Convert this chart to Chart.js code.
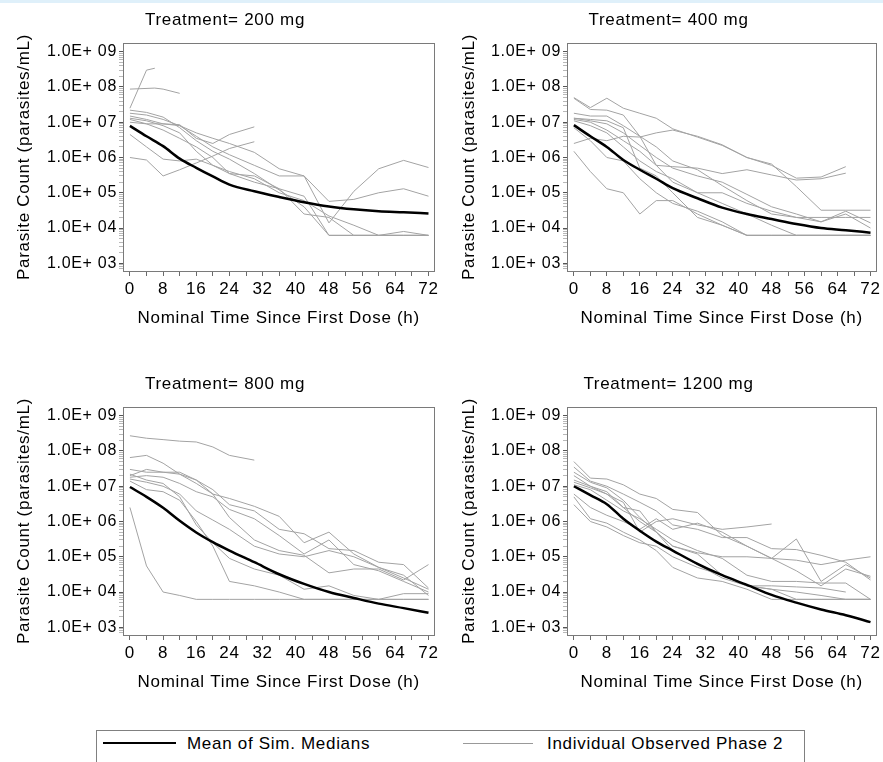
<!DOCTYPE html>
<html>
<head>
<meta charset="utf-8">
<script src="https://cdn.jsdelivr.net/npm/chart.js@4.4.1/dist/chart.umd.min.js"></script>
<style>
    body { margin: 0; background: #fff; width: 883px; height: 762px; overflow: hidden; position: relative;
           font-family: "Liberation Sans", Arial, sans-serif; }
    .strip { position: absolute; left: 0; top: 0; width: 883px; height: 3px; background: #dff0fa; }
    canvas { position: absolute; }
    #legend { position: absolute; left: 96px; top: 730px; width: 707px; height: 44px; border: 1px solid #808080; }
    #legend .ln { position: absolute; }
    #legend .tx { position: absolute; top: 3px; font-size: 17px; letter-spacing: 0.7px; color: #000; line-height: 20px; }
</style>
</head>
<body>
<div class="strip"></div>
<canvas id="c200" width="441" height="340" style="left:0;top:0"></canvas>
<canvas id="c400" width="443" height="340" style="left:440px;top:0"></canvas>
<canvas id="c800" width="441" height="340" style="left:0;top:364px"></canvas>
<canvas id="c1200" width="443" height="340" style="left:440px;top:364px"></canvas>
<div id="legend">
    <div class="ln" style="left:6px;top:11px;width:73px;height:2px;background:#000"></div>
    <div class="tx" style="left:90px">Mean of Sim. Medians</div>
    <div class="ln" style="left:366px;top:12px;width:70px;height:1px;background:#999"></div>
    <div class="tx" style="left:450px">Individual Observed Phase 2</div>
</div>
<script>
const _ = null;

// sampling times (h) of the observed individuals and of the simulated medians
const OBS_TIMES = [0, 4, 6, 8, 12, 16, 20, 24, 30, 36, 42, 48, 54, 60, 66, 72];
const SIM_TIMES = [0, 4, 8, 12, 16, 20, 24, 30, 36, 42, 48, 54, 60, 66, 72];

const X_TICKS = [0, 4, 8, 12, 16, 20, 24, 28, 32, 36, 40, 44, 48, 52, 56, 60, 64, 68, 72];
const Y_EXPONENTS = [3, 4, 5, 6, 7, 8, 9];
const Y_LABELS = ['1.0E+ 03', '1.0E+ 04', '1.0E+ 05', '1.0E+ 06', '1.0E+ 07', '1.0E+ 08', '1.0E+ 09'];

const TREATMENTS = ['Treatment= 200 mg', 'Treatment= 400 mg', 'Treatment= 800 mg', 'Treatment= 1200 mg'];

// mean of simulated medians (parasites/mL)
const MEAN_200 = [7.9e6, 4e6, 2.1e6, 9.3e5, 5.1e5, 2.9e5, 1.7e5, 1.1e5, 7.6e4, 5.4e4, 4.1e4, 3.4e4, 3e4, 2.8e4, 2.6e4];
const MEAN_400 = [8.3e6, 4e6, 2e6, 8.5e5, 4.5e5, 2.5e5, 1.35e5, 7e4, 3.8e4, 2.5e4, 1.8e4, 1.3e4, 1e4, 8.7e3, 7.4e3];
const MEAN_800 = [9.5e6, 5e6, 2.45e6, 1.05e6, 4.9e5, 2.6e5, 1.5e5, 7e4, 3.2e4, 1.7e4, 1e4, 6.8e3, 4.7e3, 3.5e3, 2.6e3];
const MEAN_1200 = [1e7, 5.6e6, 3.1e6, 1.2e6, 5.5e5, 2.7e5, 1.5e5, 6.3e4, 3e4, 1.6e4, 8.3e3, 5e3, 3.2e3, 2.2e3, 1.4e3];

// individual observed profiles, one row per subject
const OBS_200 = [
    [2.5e7, 3e8, 3.4e8, _, _, _, _, _, _, _, _, _, _, _, _, _],
    [8.7e7, _, 9.3e7, 8.7e7, 6.6e7, _, _, _, _, _, _, _, _, _, _, _],
    [2.2e7, 1.9e7, _, 1.4e7, 7e6, 3e6, 1.5e6, 9e5, 3.5e5, 1.2e5, 4e4, 6.2e3, 6.2e3, 6.2e3, 6.2e3, 6.2e3],
    [1.8e7, 1.6e7, _, 1.2e7, 8e6, 5e6, 3.5e6, 2.5e6, 1.4e6, 4.8e5, 3e5, 1.4e4, 1.1e5, 4.8e5, 8.3e5, 5.2e5],
    [1.5e7, 1.2e7, _, 9e6, 8e6, 4e6, 2e6, 1.2e6, 6e5, 3e5, 3e5, 5.7e4, 6.5e4, 1e5, 1.3e5, 8e4],
    [1.2e7, 9e6, _, 9e6, 8.5e6, 3.5e6, 2.5e6, 4.5e6, 7.4e6, _, _, _, _, _, _, _],
    [1e6, 8.5e5, _, 3e5, 4.5e5, 7e5, 1.1e6, 1.8e6, 2.8e6, _, _, _, _, _, _, _],
    [4.5e6, 2e6, _, 9e5, 8e5, 9e5, 6e5, 3.5e5, 3e5, 1.3e5, 2.5e4, 2e4, 6.2e3, 6.2e3, 6.2e3, 6.2e3],
    [1e7, 9e6, _, 6e6, 3.5e6, 2e6, 1e6, 3.5e5, 2e5, 1.3e5, 8e4, 6.2e3, 6.2e3, 6.2e3, 6.2e3, 6.2e3],
    [1.3e7, 1.1e7, _, 8e6, 5e6, 1.5e6, 6e5, 4e5, 2.5e5, 1e5, 6e4, 2.2e4, 1.2e4, 6.2e3, 8e3, 6.2e3]
];
const OBS_400 = [
    [5e7, 2.6e7, _, 4.8e7, 2.5e7, 1.8e7, 1.3e7, 6.5e6, 3.8e6, 2.2e6, 1e6, 6.5e5, 1.5e5, 3.2e4, 3.2e4, 3.2e4],
    [4.8e7, 2.3e7, _, 2.2e7, 1.6e7, 4e6, 2e6, 8e5, 4.5e5, 1.6e5, 6e4, 2.5e4, 2e4, 2e4, 2e4, 2e4],
    [1.8e7, 1.5e7, _, 1.5e7, 8e6, 4e6, 6e5, 5.5e5, 5e5, 3.5e5, 4.5e5, 3.2e5, 2.3e5, 2.5e5, 3.6e5, _],
    [1.3e7, 1.1e7, _, 9e6, 5e6, 2.2e6, 1e6, 5e5, 3e5, 2e5, 9e4, 4e4, 2.5e4, 1.5e4, 2.5e4, 1e4],
    [2.5e6, 3.5e6, _, 3e6, 4e6, 3.8e6, 5e6, 6e6, 4e6, 2.3e6, 1e6, 6e5, 2.6e5, 2.8e5, 5.5e5, _],
    [1.2e7, 1e7, _, 6e6, 3e6, 1.5e6, 6e5, 2e5, 1e5, 5e4, 2.5e4, 1.2e4, 6.2e3, 6.2e3, 6.2e3, 6.2e3],
    [7e6, 3e6, _, 1e6, 8e5, 2.5e5, 1e5, 5e4, 3e4, 1.5e4, 6.2e3, 6.2e3, 6.2e3, 6.2e3, 6.2e3, 6.2e3],
    [1.5e6, 4e5, _, 1.3e5, 1e5, 2.5e4, 6e4, 6e4, 2.5e4, 1.2e4, 6.2e3, 6.2e3, 6.2e3, 6.2e3, 6.2e3, 6.2e3],
    [1.1e7, 8e6, _, 5e6, 2e6, 8e5, 4e5, 2.5e5, 1e5, 1e5, 5e4, 3e4, 2e4, 1.5e4, 3e4, 1.4e4],
    [1.3e7, 1.2e7, _, 1.1e7, 7e6, 5e5, 3e5, 1e5, 2e4, 1.2e4, 6.2e3, 6.2e3, 6.2e3, 6.2e3, 6.2e3, 6.2e3]
];
const OBS_800 = [
    [2.7e8, 2.3e8, _, 2.1e8, 1.9e8, 1.8e8, 1.3e8, 7.5e7, 5.5e7, _, _, _, _, _, _, _],
    [6.5e7, 7.5e7, _, 4.5e7, 2.2e7, 1.5e7, 6e6, 1.3e6, 3e5, 1.5e5, 1.1e5, 3.5e4, 4.5e4, 4.5e4, 2.2e4, 6e4],
    [2.5e6, 5.5e4, _, 1e4, 8e3, 6.2e3, 6.2e3, 6.2e3, 6.2e3, 6.2e3, 6.2e3, 6.2e3, 6.2e3, 6.2e3, 6.2e3, 6.2e3],
    [3e7, 2.5e7, _, 2.5e7, 2.2e7, 1.2e7, 6e6, 4.5e6, 2.7e6, 1.4e6, 2.5e5, 5e5, 1.2e5, 5e4, 2.5e4, 1.2e4],
    [2e7, 3e7, _, 2.5e7, 2.5e7, 1.5e7, 8e6, 3e6, 2e6, 6e5, 4.5e5, 1.7e5, 1.5e5, 7e4, 6e4, 1.3e4],
    [1.8e7, 2e7, _, 1.8e7, 1.2e7, 7e6, 5e6, 2.2e6, 1.2e6, 4e5, 1.2e5, 3e5, 6e4, 4e4, 2e4, 1e4],
    [1.6e7, 1.3e7, _, 1e7, 6e6, 2e6, 1.1e6, 6e5, 2e5, 1.2e5, 1e5, 1.5e5, 1e5, 5e4, 3e4, 8e3],
    [1.4e7, 8e6, _, 7e6, 4e6, 1e6, 2e5, 2e4, 1.5e4, 1e4, 6.2e3, 6.2e3, 6.2e3, 6.2e3, 6.2e3, 6.2e3],
    [2.2e7, 1.5e7, _, 1.2e7, 5e6, 8e5, 2.5e5, 9e4, 4.5e4, 3e4, 1.2e4, 1.5e4, 8e3, 6.2e3, 9e3, 9e3]
];
const OBS_1200 = [
    [5e7, 1.7e7, _, 1.6e7, 1.1e7, 6e6, 4.5e6, 2.2e6, 1.8e6, 4e5, 2e5, 9e4, 3.2e5, 2e4, 6e4, 2.5e4],
    [3.5e7, 1.4e7, _, 1e7, 6e6, 3.5e6, 2e6, 8e5, 6e5, 3.5e5, 3.5e5, 1.7e5, 1.6e5, 1.1e5, 7e4, 2.2e4],
    [1.5e7, 1e7, _, 6e6, 3.5e6, 5e5, 1e6, 1.2e6, 8e5, 6e5, 7e5, 8.5e5, _, _, _, _],
    [2e7, 1e7, _, 7e6, 2.5e6, 2e6, 5e5, 2e5, 1.3e5, 1e5, 1e5, 9e4, 8e4, 6e4, 8e4, 1e5],
    [3e6, 1e6, _, 7e5, 4e5, 2.5e5, 2e5, 1e5, 5e4, 3e4, 1.5e4, 1.5e4, 1.4e4, 1.3e4, 1e4, _],
    [5e6, 1.2e6, _, 9e5, 5e5, 3e5, 1.5e5, 5e4, 2.5e4, 2e4, 1.2e4, 6.2e3, 6.2e3, 6.2e3, 6.2e3, 6.2e3],
    [1.1e7, 8e6, _, 4e6, 2e6, 1.2e6, 6e5, 3e5, 1.5e5, 9e4, 3e4, 2e4, 2e4, 1.8e4, 1.8e4, 6.2e3],
    [6e6, 2.5e6, _, 1.5e6, 1e6, 6e5, 1.2e6, 6e5, 9e5, 5e5, 2e5, 9e4, 4e4, 1.5e4, 4.5e4, 2.8e4],
    [1.3e7, 9e6, _, 6e6, 2.5e6, 1e6, 5e5, 2e5, 1.2e5, 3e4, 1.5e4, 1.2e4, 1e4, 8e3, 6.2e3, 6.2e3],
    [2.5e7, 1.3e7, _, 9e6, 4e6, 1.3e6, 5e5, 1.5e5, 6e4, 2.5e4, 1.5e4, 1.2e4, 6.2e3, 6.2e3, 6.2e3, 6.2e3]
];

const FONT = '"Liberation Sans", Arial, sans-serif';
Chart.defaults.font.family = FONT;
Chart.defaults.color = '#000';

// plot frame + wider letter spacing like the SAS output
const framePlugin = {
    id: 'frame',
    beforeDraw(chart) {
        chart.ctx.letterSpacing = '0.7px';
    },
    afterDatasetsDraw(chart) {
        const a = chart.chartArea;
        const ctx = chart.ctx;
        ctx.save();
        ctx.strokeStyle = '#7a7a7a';
        ctx.lineWidth = 1;
        ctx.strokeRect(Math.round(a.left) + 0.5, Math.round(a.top) + 0.5,
            Math.round(a.right - a.left), Math.round(a.bottom - a.top));
        ctx.restore();
    }
};

function toPoints(times, values) {
    return times.map((t, i) => ({ x: t, y: values[i] }));
}

function createPanel(id, title, obs, mean, padLeft, padRight, yTitlePad) {
    const ctx = document.getElementById(id).getContext('2d');

    const datasets = [{
        data: toPoints(SIM_TIMES, mean),
        borderColor: '#000',
        borderWidth: 2.5,
        pointRadius: 0,
        cubicInterpolationMode: 'monotone'
    }];
    obs.forEach(function(subject) {
        datasets.push({
            data: toPoints(OBS_TIMES, subject),
            borderColor: '#a3a3a3',
            borderWidth: 1,
            pointRadius: 0,
            spanGaps: true
        });
    });

    new Chart(ctx, {
        type: 'line',
        data: { datasets: datasets },
        plugins: [framePlugin],
        options: {
            responsive: false,
            animation: false,
            devicePixelRatio: 1,
            layout: { padding: { left: padLeft, right: padRight, top: 0, bottom: 0 } },
            plugins: {
                legend: { display: false },
                tooltip: { enabled: false },
                title: {
                    display: true,
                    text: title,
                    color: '#000',
                    font: { size: 17, weight: 'normal' },
                    padding: { top: 10, bottom: 12.6 }
                }
            },
            scales: {
                x: {
                    type: 'linear',
                    min: -1.67,
                    max: 73.43,
                    afterBuildTicks: function(scale) {
                        scale.ticks = X_TICKS.map(v => ({ value: v }));
                    },
                    afterFit: function(scale) { scale.height = 69; },
                    border: { display: false },
                    grid: { drawOnChartArea: false, drawTicks: true, tickLength: 5, color: '#6a6a6a' },
                    ticks: {
                        autoSkip: false,
                        maxRotation: 0,
                        padding: 3,
                        font: { size: 17 },
                        color: '#000',
                        callback: function(value) { return value % 8 === 0 ? String(value) : ''; }
                    },
                    title: {
                        display: true,
                        text: 'Nominal Time Since First Dose (h)',
                        color: '#000',
                        font: { size: 17 },
                        padding: { top: 0, bottom: 11 }
                    }
                },
                y: {
                    type: 'logarithmic',
                    min: Math.pow(10, 2.782),
                    max: Math.pow(10, 9.247),
                    afterBuildTicks: function(scale) {
                        const t = [];
                        for (let e = 2; e <= 9; e++) {
                            for (let m = 1; m <= 9; m++) {
                                const v = m * Math.pow(10, e);
                                if (v >= scale.min && v <= scale.max) {
                                    t.push({ value: v, major: m === 1 });
                                }
                            }
                        }
                        scale.ticks = t;
                    },
                    afterFit: function(scale) { scale.width = 111; },
                    border: { display: false },
                    grid: {
                        drawOnChartArea: false,
                        drawTicks: true,
                        tickLength: 4,
                        color: function(c) { return c.tick && c.tick.major ? '#555' : '#b8b8b8'; }
                    },
                    ticks: {
                        autoSkip: false,
                        padding: 2,
                        font: { size: 16 },
                        color: '#000',
                        callback: function(value, index, ticks) {
                            if (!ticks[index].major) return '';
                            const e = Math.round(Math.log10(value));
                            return Y_LABELS[Y_EXPONENTS.indexOf(e)];
                        }
                    },
                    title: {
                        display: true,
                        text: 'Parasite Count (parasites/mL)',
                        color: '#000',
                        font: { size: 17 },
                        padding: { top: yTitlePad, bottom: 0 }
                    }
                }
            }
        }
    });
}

createPanel('c200', TREATMENTS[0], OBS_200, MEAN_200, 12, 3, 2);
createPanel('c400', TREATMENTS[1], OBS_400, MEAN_400, 16, 2, 3);
createPanel('c800', TREATMENTS[2], OBS_800, MEAN_800, 12, 3, 2);
createPanel('c1200', TREATMENTS[3], OBS_1200, MEAN_1200, 16, 2, 3);
</script>
</body>
</html>
